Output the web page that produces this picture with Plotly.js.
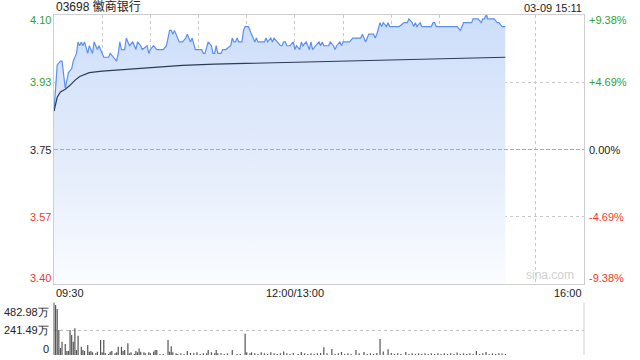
<!DOCTYPE html>
<html>
<head>
<meta charset="utf-8">
<script src="https://cdn.plot.ly/plotly-3.0.1.min.js"></script>
<style>html,body{margin:0;padding:0;background:#fff;}#chart{width:640px;height:360px;}</style>
</head>
<body>
<div id="chart"></div>
<script>
// ---- data (minutes since 09:30, lunch break removed; 150 = 12:00/13:00) ----
const stockTitle = "03698 徽商银行";
const stampText = "03-09 15:11";
const prevClose = 3.75;

const priceMin = [0,2,4,5,7,9,11,12,14,15,16,17,18,19,21,22,24,25,27,28,30,31,33,34,35,37,39,40,41,42,44,45,47,49,51,52,54,55,58,59,60,62,64,66,68,70,71,72,73,74,75,77,78,80,82,83,85,86,88,90,92,93,94,96,98,99,100,101,102,104,105,107,110,111,112,113,114,115,117,118,119,121,122,123,124,125,126,127,129,131,132,133,135,136,137,139,141,142,143,144,145,147,149,150,151,153,154,155,157,158,159,160,161,163,165,166,167,168,170,171,172,174,175,176,178,179,180,182,184,186,188,191,192,193,194,196,197,199,200,201,203,204,205,207,208,209,211,212,215,218,220,221,223,224,225,226,228,229,231,235,236,237,238,251,253,254,255,256,260,261,263,264,266,267,268,269,270,271,273,274,276,277,279,281];
const priceVal = [3.85,3.97,3.98,3.98,3.91,3.95,3.96,3.98,4.00,4.03,4.02,4.03,4.02,4.03,4.00,4.02,4.00,4.03,4.01,4.02,4.00,3.99,3.99,3.99,4.00,3.99,3.98,4.00,4.03,4.01,4.01,4.04,4.02,4.03,4.01,4.03,4.02,4.01,4.02,4.00,4.01,4.02,4.01,4.01,4.01,4.02,4.04,4.06,4.06,4.05,4.06,4.04,4.03,4.03,4.04,4.05,4.03,4.04,4.01,4.01,4.01,4.00,4.00,4.03,4.02,4.00,4.00,4.02,4.00,4.00,4.01,4.01,4.02,4.04,4.03,4.03,4.04,4.03,4.03,4.06,4.07,4.07,4.06,4.05,4.04,4.03,4.04,4.03,4.03,4.03,4.04,4.03,4.04,4.03,4.04,4.03,4.02,4.02,4.03,4.03,4.02,4.02,4.03,4.01,4.02,4.01,4.03,4.02,4.03,4.02,4.01,4.03,4.01,4.02,4.03,4.02,4.03,4.02,4.02,4.02,4.03,4.02,4.01,4.02,4.03,4.02,4.03,4.03,4.03,4.04,4.04,4.04,4.05,4.04,4.03,4.05,4.05,4.05,4.04,4.05,4.08,4.07,4.08,4.07,4.08,4.07,4.07,4.07,4.07,4.08,4.08,4.09,4.08,4.07,4.08,4.07,4.08,4.07,4.07,4.07,4.08,4.08,4.07,4.07,4.06,4.07,4.08,4.08,4.08,4.09,4.09,4.09,4.08,4.09,4.09,4.10,4.09,4.09,4.09,4.09,4.08,4.08,4.07,4.07];

const avgMin = [0,2,4,7,10,13,16,22,30,39,49,60,72,80,100,120,144,160,182,203,215,240,281];
const avgVal = [3.85,3.886,3.90,3.907,3.917,3.93,3.94,3.95,3.954,3.957,3.96,3.964,3.967,3.969,3.972,3.974,3.977,3.979,3.98,3.982,3.985,3.987,3.99];

const volMin = [1,2,3,4,5,7,8,9,10,11,12,13,14,15,17,18,19,21,22,23,24,26,27,29,30,31,32,34,35,36,38,39,40,42,43,44,46,47,48,50,51,52,53,54,56,57,59,60,62,63,64,66,68,71,72,73,74,76,77,79,81,83,85,87,89,91,93,95,96,98,100,101,102,104,106,108,111,114,116,119,120,122,123,125,127,129,131,133,135,137,139,141,143,145,147,149,152,154,156,158,160,162,164,166,168,170,173,175,177,179,181,183,185,188,190,193,195,197,199,201,203,205,208,210,212,214,216,219,221,223,225,227,229,231,233,235,237,239,241,243,245,247,249,251,253,255,257,259,261,263,265,267,269,271,273,275,277,279,281];
const volVal = [483,444,242,68,128,106,39,39,242,193,128,258,48,187,80,48,39,97,32,39,26,16,32,145,26,145,16,10,32,39,16,26,80,80,39,48,113,16,26,10,39,26,64,32,26,16,26,16,32,48,48,10,10,145,32,84,26,16,10,16,10,39,20,16,26,10,16,16,48,26,16,48,16,16,10,16,48,10,10,205,26,16,26,16,10,26,16,10,26,16,10,16,35,16,10,20,10,30,16,10,16,10,16,20,75,16,58,10,16,29,10,16,10,48,16,29,10,16,10,20,155,35,55,20,10,16,10,29,10,16,10,16,10,16,10,16,10,16,10,16,10,16,10,25,10,16,10,16,10,39,10,16,29,10,16,10,16,15,10];

const gridMin = [0,30,60,90,120,150,180,210,240,270,300,330];
const timeTickVals = [0,150,330];
const timeTickText = ["09:30","12:00/13:00","16:00"];
const priceTickVals = [4.10,3.925,3.75,3.575,3.40];
const priceTickText = ["4.10","3.93","3.75","3.57","3.40"];
const pctTickText = ["+9.38%","+4.69%","0.00%","-4.69%","-9.38%"];
const volTickVals = [482.98,241.49,0];
const volTickText = ["482.98万","241.49万","0"];

// ---- styling ----
const FONT = "Liberation Sans, Arial, sans-serif";
const GREEN = "#2ea32e", RED = "#f03a2e", BLACK = "#222";
const mainBottom = 0.2088, volTop = 0.147;

const traces = [
  {x: priceMin, y: priceVal, type: "scatter", mode: "lines", xaxis: "x", yaxis: "y",
   line: {color: "#5b8ff0", width: 1.2}, fill: "tozeroy",
   fillgradient: {type: "vertical", start: 3.40, stop: 4.10,
     colorscale: [[0, "rgba(250,252,255,1)"], [0.5, "rgb(226,235,251)"], [1, "rgb(205,222,250)"]]},
   hoverinfo: "skip"},
  {x: avgMin, y: avgVal, type: "scatter", mode: "lines", xaxis: "x", yaxis: "y",
   line: {color: "#2d3b55", width: 1.2}, hoverinfo: "skip"},
  {x: volMin, y: volVal, type: "bar", xaxis: "x2", yaxis: "y2", width: 0.75,
   marker: {color: "#555", line: {width: 0}}, hoverinfo: "skip"}
];

const annotations = [];
priceTickVals.forEach((v, i) => {
  const col = v > prevClose ? GREEN : (v < prevClose ? RED : BLACK);
  const ys = i === 0 ? -5 : (i === priceTickVals.length - 1 ? 6 : 0);
  annotations.push({xref: "paper", yref: "y", x: 0, y: v, xanchor: "right", yanchor: "middle",
    xshift: -1, yshift: ys, text: priceTickText[i], showarrow: false, font: {family: FONT, size: 11, color: col}});
  annotations.push({xref: "paper", yref: "y", x: 1, y: v, xanchor: "left", yanchor: "middle",
    xshift: 3, yshift: ys, text: pctTickText[i], showarrow: false, font: {family: FONT, size: 11, color: col}});
});
timeTickVals.forEach((v, i) => {
  annotations.push({xref: "x", yref: "paper", x: v, y: mainBottom, xanchor: i === 0 ? "left" : (i === timeTickVals.length - 1 ? "right" : "center"),
    yanchor: "top", yshift: -1, text: timeTickText[i], showarrow: false, font: {family: FONT, size: 11, color: BLACK}});
});
volTickVals.forEach((v, i) => {
  const ys = i === 0 ? -7 : (i === volTickVals.length - 1 ? 6 : 0);
  annotations.push({xref: "paper", yref: "y2", x: 0, y: v, xanchor: "right", yanchor: "middle",
    xshift: -3, yshift: ys, text: volTickText[i], showarrow: false, font: {family: FONT, size: 11, color: BLACK}});
});
annotations.push({xref: "paper", yref: "paper", x: 0, y: 1, xanchor: "left", yanchor: "bottom", xshift: 0, yshift: -1,
  text: stockTitle, showarrow: false, font: {family: "Liberation Sans, Noto Sans CJK SC, sans-serif", size: 12, color: "#222"}});
annotations.push({xref: "paper", yref: "paper", x: 1, y: 1, xanchor: "right", yanchor: "bottom", yshift: -1,
  text: stampText, showarrow: false, font: {family: FONT, size: 11, color: "#222"}});
annotations.push({xref: "paper", yref: "paper", x: 0.985, y: mainBottom, xanchor: "right", yanchor: "bottom", yshift: 0,
  text: "sina.com", showarrow: false, font: {family: FONT, size: 12, color: "#cfcfcf"}});

const layout = {
  width: 640, height: 360,
  margin: {l: 54, r: 56, t: 15, b: 5, pad: 0},
  paper_bgcolor: "#fff", plot_bgcolor: "#fff",
  showlegend: false,
  xaxis: {domain: [0, 1], range: [0, 330], anchor: "y", tickvals: gridMin, showticklabels: false, ticks: "",
    showgrid: true, gridcolor: "#c8c8c8", griddash: "dot", gridwidth: 1,
    showline: true, mirror: true, linecolor: "#cfcfcf", linewidth: 1, zeroline: false},
  yaxis: {domain: [mainBottom, 1], range: [3.40, 4.10], tickvals: priceTickVals, showticklabels: false, ticks: "",
    showgrid: true, gridcolor: "#c8c8c8", griddash: "dot", gridwidth: 1,
    showline: true, mirror: true, linecolor: "#cfcfcf", linewidth: 1, zeroline: false},
  xaxis2: {domain: [0, 1], range: [0, 330], anchor: "y2", showticklabels: false, ticks: "",
    showgrid: false, showline: false, zeroline: false},
  yaxis2: {domain: [0, volTop], range: [0, 482.98], anchor: "x2", tickvals: [241.49, 482.98], showticklabels: false, ticks: "",
    showgrid: true, gridcolor: "#bdbdbd", griddash: "dot", gridwidth: 1, showline: false, zeroline: false},
  shapes: [
    {type: "line", xref: "x", yref: "y", x0: 0, x1: 330, y0: prevClose, y1: prevClose,
     line: {color: "#a9a9a9", width: 1, dash: "4px,2px"}, layer: "above"},
    {type: "line", xref: "paper", yref: "y2 domain", x0: 0, x1: 0, y0: 0, y1: 1.05,
     line: {color: "#555", width: 1}},
    {type: "line", xref: "paper", yref: "y2 domain", x0: 1, x1: 1, y0: 0, y1: 1.05,
     line: {color: "#cfcfcf", width: 1}}
  ],
  annotations: annotations
};

Plotly.newPlot("chart", traces, layout, {staticPlot: true, displayModeBar: false});
</script>
</body>
</html>
